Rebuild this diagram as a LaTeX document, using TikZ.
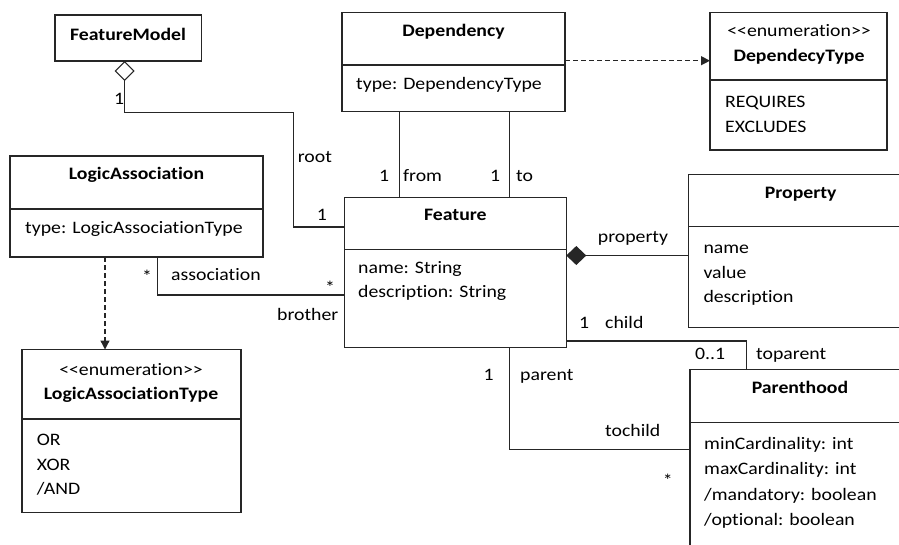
\documentclass[tikz,border=0pt]{standalone}
\usepackage{fontspec}
\setmainfont{Carlito}[FakeStretch=1.13,Ligatures={NoCommon}]
\usetikzlibrary{arrows.meta,calc}
\begin{document}
\begin{tikzpicture}[x=1pt,y=-1pt,
  ln/.style={line width=1.1pt,draw=black!85},
  box/.style={ln,anchor=north west,inner sep=0pt,outer sep=0pt},
  txt/.style={font=\fontsize{17.5}{21}\selectfont,inner sep=0pt,text=black},
  ttl/.style={txt,font=\bfseries\fontsize{17.5}{21}\selectfont,anchor=base},
  stereo/.style={txt,anchor=base},
  attr/.style={txt,anchor=base west},
  lbl/.style={txt,anchor=base west},
  depline/.style={ln,line width=1.3pt,dash pattern=on 5pt off 3pt,-{Triangle[length=9pt,width=9pt]}},
  aggr/.style={{Diamond[open,length=20pt,width=20pt]}-},
  comp/.style={{Diamond[length=20pt,width=19pt]}-},
]
\useasboundingbox (0,0) rectangle (899,544);
\clip (0,0) rectangle (899,544);

% class boxes
\node[box,minimum width=146.7pt,minimum height=46pt]  (fm)   at (55,15) {};
\node[box,minimum width=223pt,minimum height=99pt]    (dep)  at (342,12.5) {};
\node[box,minimum width=177pt,minimum height=137.5pt] (dt)   at (710,12.5) {};
\node[box,minimum width=253pt,minimum height=101pt]   (la)   at (10,156) {};
\node[box,minimum width=221.8pt,minimum height=150pt] (feat) at (344.5,197.5) {};
\node[box,minimum width=226pt,minimum height=153pt]   (prop) at (688.5,174.5) {};
\node[box,minimum width=219pt,minimum height=163pt]   (lat)  at (22,349.5) {};
\node[box,minimum width=226pt,minimum height=200pt]   (ph)   at (690,369.5) {};

% compartment dividers
\draw[ln] (dep.west |- 0,65) -- (dep.east |- 0,65);
\draw[ln] (dt.west |- 0,80) -- (dt.east |- 0,80);
\draw[ln] (la.west |- 0,209) -- (la.east |- 0,209);
\draw[ln] (feat.west |- 0,249.3) -- (feat.east |- 0,249.3);
\draw[ln] (prop.west |- 0,226.7) -- (prop.east |- 0,226.7);
\draw[ln] (lat.west |- 0,419) -- (lat.east |- 0,419);
\draw[ln] (ph.west |- 0,422.3) -- (ph.east |- 0,422.3);

% class names and attributes
\node[ttl] (fmT) at (128,40.7) {FeatureModel};

\node[ttl]  (depT) at (453.5,36.7) {Dependency};
\node[attr] (depA) at (356,89) {type: DependencyType};

\node[stereo] (dtS) at (799,36) {{<}{<}enumeration{>}{>}};
\node[ttl]    (dtT) at (799,61) {DependecyType};
\node[attr]   (dt1) at (725,107) {REQUIRES};
\node[attr]   (dt2) at (725,132) {EXCLUDES};

\node[ttl]  (laT) at (136.5,179) {LogicAssociation};
\node[attr] (laA) at (25,233) {type: LogicAssociationType};

\node[ttl]  (featT) at (455.4,220.5) {Feature};
\node[attr] (feat1) at (358,273) {name: String};
\node[attr] (feat2) at (358,297.5) {description: String};

\node[ttl]  (propT) at (800.7,198.3) {Property};
\node[attr] (prop1) at (703.3,253.3) {name};
\node[attr] (prop2) at (703.3,278.3) {value};
\node[attr] (prop3) at (703.3,302) {description};

\node[stereo] (latS) at (131,375) {{<}{<}enumeration{>}{>}};
\node[ttl]    (latT) at (131,399) {LogicAssociationType};
\node[attr]   (lat1) at (36.7,445) {OR};
\node[attr]   (lat2) at (36.7,470) {XOR};
\node[attr]   (lat3) at (36.7,494) {/AND};

\node[ttl]  (phT) at (800,393.3) {Parenthood};
\node[attr] (ph1) at (704,449.3) {minCardinality: int};
\node[attr] (ph2) at (704,474.3) {maxCardinality: int};
\node[attr] (ph3) at (704,500) {/mandatory: boolean};
\node[attr] (ph4) at (704,525) {/optional: boolean};

% connectors
\draw[ln,aggr] ([xshift=-3.7pt]fm.south) |- (293.3,112.3) |- (feat.west |- 0,227);
\draw[depline] (dep.east |- 0,60.7) -- (dt.west |- 0,60.7);
\draw[ln] (dep.south -| 399.5,0) -- (feat.north -| 399.5,0);
\draw[ln] (dep.south -| 509.3,0) -- (feat.north -| 509.3,0);
\draw[depline] (la.south -| 105,0) -- (lat.north -| 105,0);
\draw[ln] (la.south -| 157.7,0) |- (feat.west |- 0,295);
\draw[ln,comp] (feat.east |- 0,255.5) -- (prop.west |- 0,255.5);
\draw[ln] (feat.east |- 0,341) -| (ph.north -| 746.7,0);
\draw[ln] (feat.south -| 509.3,0) |- (ph.west |- 0,449.3);

% role names and multiplicities
\node[lbl] (m1)  at (114,104)   {1};
\node[lbl] (r1)  at (297.7,162) {root};
\node[lbl] (m2)  at (316.7,220) {1};
\node[lbl] (m3)  at (379,181.7) {1};
\node[lbl] (r2)  at (403,181.7) {from};
\node[lbl] (m4)  at (490,181.7) {1};
\node[lbl] (r3)  at (516,181.7) {to};
\node[lbl] (m5)  at (142,282.5) {*};
\node[lbl] (r4)  at (171,280)   {association};
\node[lbl] (m6)  at (325,293)   {*};
\node[lbl] (r5)  at (277,320.7) {brother};
\node[lbl] (r6)  at (597.7,242.7) {property};
\node[lbl] (m7)  at (579,328.3) {1};
\node[lbl] (r7)  at (605,328.3) {child};
\node[lbl] (m8)  at (695,359)   {0..1};
\node[lbl] (r8)  at (756,359)   {toparent};
\node[lbl] (m9)  at (483.3,380.7) {1};
\node[lbl] (r9)  at (520,380.7) {parent};
\node[lbl] (r10) at (605,436)   {tochild};
\node[lbl] (m10) at (662.7,486) {*};
\end{tikzpicture}
\end{document}
